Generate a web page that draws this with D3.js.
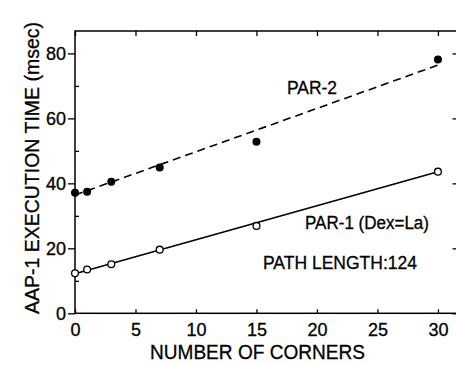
<!DOCTYPE html>
<html><head><meta charset="utf-8">
<script src="https://cdn.jsdelivr.net/npm/d3@7"></script>
<style>
html,body{margin:0;padding:0;background:#fff;}
svg{display:block;}
text{font-family:"Liberation Sans",Arial,sans-serif;fill:#000;}
</style></head>
<body>
<svg id="chart" width="456" height="365"></svg>
<script>
// Data
const corners = [0, 1, 3, 7, 15, 30];
const par2 = [37.1, 37.4, 40.5, 44.9, 52.8, 78.1];
const par1 = [12.3, 13.5, 15.1, 19.6, 26.9, 43.6];
const fitX = [0, 30];
const par2Fit = [36.4, 76.4];
const par1Fit = [12.2, 43.6];
const xTicks = [0, 5, 10, 15, 20, 25, 30];
const yTicks = [0, 20, 40, 60, 80];
const yMinor = [10, 30, 50, 70];

const svg = d3.select("#chart");
const x = d3.scaleLinear().domain([0, 31.7]).range([75, 458.5]);
const y = d3.scaleLinear().domain([0, 86.9]).range([313.3, 31]);

function styleAxis(g){
  g.select(".domain").remove();
  g.selectAll(".tick line").attr("stroke","#000").attr("stroke-width",1.3);
  g.selectAll(".tick text").style("font-family",'"Liberation Sans",Arial,sans-serif').style("font-size","18px")
    .attr("fill","#000").attr("stroke","#000").attr("stroke-width",0.3);
}

// bottom axis with labels, inward ticks
svg.append("g").attr("transform",`translate(0,${y(0)})`)
  .call(d3.axisBottom(x).tickValues(xTicks).tickSizeInner(-4).tickSizeOuter(0).tickPadding(10).tickFormat(d3.format("d")))
  .call(styleAxis);
// top axis inward ticks
svg.append("g").attr("transform",`translate(0,${y.range()[1]})`)
  .call(d3.axisTop(x).tickValues(xTicks).tickSizeInner(-5).tickSizeOuter(0).tickFormat(""))
  .call(styleAxis);
// left axis outward major ticks with labels
svg.append("g").attr("transform",`translate(${x(0)},0)`)
  .call(d3.axisLeft(y).tickValues(yTicks).tickSizeInner(7).tickSizeOuter(0).tickPadding(2).tickFormat(d3.format("d")))
  .call(styleAxis);
// left minor inward ticks
svg.append("g").attr("transform",`translate(${x(0)},0)`)
  .call(d3.axisLeft(y).tickValues(yMinor).tickSizeInner(-4).tickSizeOuter(0).tickFormat(""))
  .call(styleAxis);
// right axis inward ticks
svg.append("g").attr("transform",`translate(${x.range()[1]},0)`)
  .call(d3.axisRight(y).tickValues(yTicks).tickSizeInner(-6).tickSizeOuter(0).tickFormat(""))
  .call(styleAxis);

// frame
svg.append("rect")
  .attr("x", x(0)).attr("y", y.range()[1])
  .attr("width", x.range()[1]-x(0)).attr("height", y(0)-y.range()[1])
  .attr("fill","none").attr("stroke","#000").attr("stroke-width",1.5);

// fitted lines
const line = d3.line().x(d=>x(d[0])).y(d=>y(d[1]));
svg.append("path").datum(fitX.map((v,i)=>[v,par2Fit[i]]))
  .attr("d", line).attr("fill","none").attr("stroke","#000")
  .attr("stroke-width",1.6).attr("stroke-dasharray","8,5");
svg.append("path").datum(fitX.map((v,i)=>[v,par1Fit[i]]))
  .attr("d", line).attr("fill","none").attr("stroke","#000")
  .attr("stroke-width",1.6);

// points
svg.append("g").selectAll("circle").data(corners.map((c,i)=>[c,par2[i]]))
  .join("circle").attr("cx",d=>x(d[0])).attr("cy",d=>y(d[1])).attr("r",4)
  .attr("fill","#000");
svg.append("g").selectAll("circle").data(corners.map((c,i)=>[c,par1[i]]))
  .join("circle").attr("cx",d=>x(d[0])).attr("cy",d=>y(d[1])).attr("r",3.4)
  .attr("fill","#fff").attr("stroke","#000").attr("stroke-width",1.3);

// labels
function label(t, x0, yb, w, fs){
  svg.append("text").attr("x",x0).attr("y",yb).text(t)
    .style("font-size",fs+"px").attr("stroke","#000").attr("stroke-width",0.3)
    .attr("textLength",w).attr("lengthAdjust","spacingAndGlyphs");
}
label("PAR-2", 287, 94, 50, 18);
label("PAR-1 (Dex=La)", 305, 229, 124, 18);
label("PATH LENGTH:124", 263, 269, 154, 18);

// axis titles
svg.append("text").attr("x",150).attr("y",359).text("NUMBER OF CORNERS")
  .style("font-size","21px").attr("stroke","#000").attr("stroke-width",0.3)
  .attr("textLength",215).attr("lengthAdjust","spacingAndGlyphs");
svg.append("text").attr("transform","translate(39,314) rotate(-90)").text("AAP-1 EXECUTION TIME (msec)")
  .style("font-size","21px").attr("stroke","#000").attr("stroke-width",0.3)
  .attr("textLength",292).attr("lengthAdjust","spacingAndGlyphs");
</script>
</body></html>
